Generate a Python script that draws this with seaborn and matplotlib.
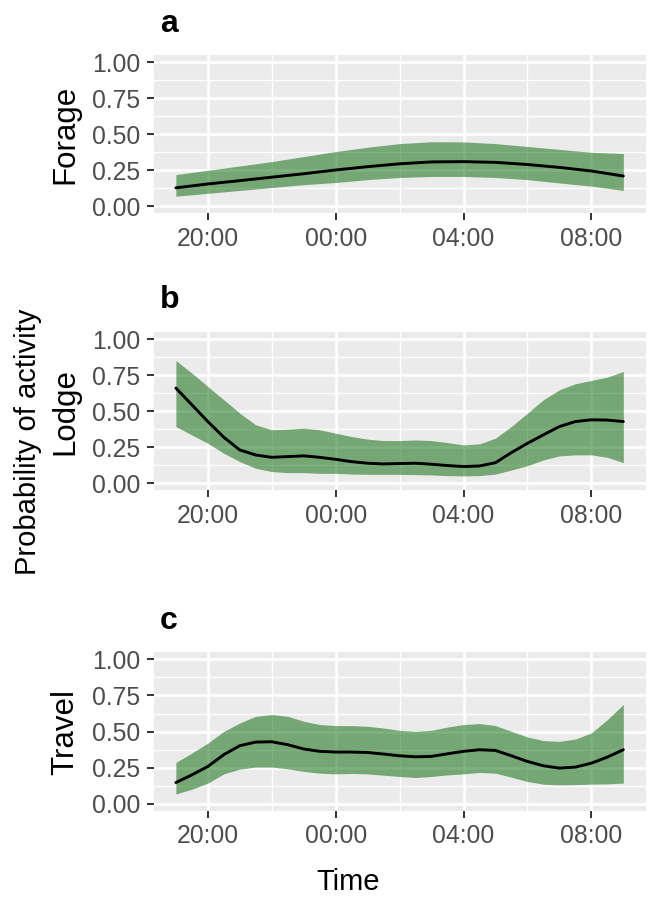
import pandas as pd
import seaborn as sns
import matplotlib.pyplot as plt
import matplotlib.dates as mdates

# Heures d'echantillonnage (19:00 -> 09:00)
hours_a = pd.date_range("2021-01-01 19:00", "2021-01-02 09:00", freq="1h")
hours_bc = pd.date_range("2021-01-01 19:00", "2021-01-02 09:00", freq="30min")

# Forage (toutes les heures)
forage_fit = [0.128, 0.155, 0.178, 0.202, 0.226, 0.252, 0.275, 0.295, 0.308, 0.31,
              0.305, 0.29, 0.27, 0.245, 0.21]
forage_low = [0.07, 0.09, 0.11, 0.13, 0.15, 0.165, 0.185, 0.2, 0.207, 0.207,
              0.2, 0.185, 0.162, 0.14, 0.11]
forage_high = [0.22, 0.25, 0.28, 0.31, 0.345, 0.38, 0.41, 0.435, 0.448, 0.447,
               0.435, 0.415, 0.395, 0.375, 0.366]

# Lodge (toutes les demi-heures)
lodge_fit = [0.66, 0.544, 0.428, 0.319, 0.231, 0.196, 0.18, 0.185, 0.19, 0.18,
             0.166, 0.15, 0.139, 0.134, 0.137, 0.139, 0.132, 0.123, 0.116, 0.12,
             0.143, 0.213, 0.277, 0.336, 0.393, 0.428, 0.44, 0.438, 0.428]
lodge_low = [0.393, 0.335, 0.277, 0.208, 0.15, 0.104, 0.081, 0.074, 0.074, 0.069,
             0.069, 0.064, 0.062, 0.062, 0.062, 0.06, 0.058, 0.053, 0.051, 0.053,
             0.064, 0.092, 0.122, 0.162, 0.19, 0.197, 0.197, 0.18, 0.143]
lodge_high = [0.851, 0.764, 0.671, 0.579, 0.486, 0.405, 0.371, 0.375, 0.382, 0.371,
              0.347, 0.324, 0.306, 0.296, 0.296, 0.3, 0.296, 0.282, 0.266, 0.273,
              0.313, 0.394, 0.486, 0.579, 0.648, 0.69, 0.713, 0.736, 0.775]

# Travel (toutes les demi-heures)
travel_fit = [0.148, 0.201, 0.259, 0.341, 0.403, 0.428, 0.43, 0.41, 0.38, 0.364,
              0.359, 0.359, 0.356, 0.345, 0.333, 0.326, 0.329, 0.347, 0.364, 0.375,
              0.37, 0.333, 0.294, 0.264, 0.248, 0.255, 0.282, 0.324, 0.375]
travel_low = [0.069, 0.102, 0.144, 0.208, 0.241, 0.255, 0.255, 0.243, 0.225, 0.213,
              0.208, 0.211, 0.208, 0.199, 0.19, 0.183, 0.19, 0.201, 0.208, 0.218,
              0.213, 0.185, 0.155, 0.137, 0.132, 0.134, 0.137, 0.139, 0.144]
travel_high = [0.287, 0.352, 0.421, 0.502, 0.56, 0.606, 0.618, 0.606, 0.572, 0.549,
               0.542, 0.542, 0.537, 0.525, 0.509, 0.502, 0.509, 0.532, 0.549, 0.556,
               0.542, 0.502, 0.463, 0.438, 0.433, 0.449, 0.491, 0.583, 0.688]

y_ticks = [0, 0.25, 0.5, 0.75, 1.0]
y_labels = ["0.00", "0.25", "0.50", "0.75", "1.00"]

panels = [
    ("a", "Forage", hours_a, forage_fit, forage_low, forage_high),
    ("b", "Lodge", hours_bc, lodge_fit, lodge_low, lodge_high),
    ("c", "Travel", hours_bc, travel_fit, travel_low, travel_high),
]

sns.set_theme(style="darkgrid", rc={"axes.facecolor": "#EBEBEB", "grid.color": "white",
                                    "text.color": "black"})
plt.rcParams["font.family"] = ["Liberation Sans", "DejaVu Sans"]

W, H = 650, 897
fig = plt.figure(figsize=(W / 100, H / 100), dpi=100)

# positions des panneaux en pixels (haut, bas)
rows = [(55.0, 213.5), (331.8, 490.5), (652.1, 811.2)]
left_px, right_px = 153.5, 645.7

x_min = pd.Timestamp("2021-01-01 18:18")
x_max = pd.Timestamp("2021-01-02 09:42")

for (letter, name, t, fit, low, high), (top, bot) in zip(panels, rows):
    ax = fig.add_axes([left_px / W, 1 - bot / H, (right_px - left_px) / W, (bot - top) / H])
    df = pd.DataFrame({"time": t, "fit": fit})
    ax.fill_between(t, low, high, color="darkgreen", alpha=0.5, linewidth=0, zorder=2)
    sns.lineplot(data=df, x="time", y="fit", ax=ax, color="black", linewidth=2.1, zorder=3)

    ax.set_xlim(x_min, x_max)
    ax.set_ylim(-0.05, 1.05)
    ax.set_yticks(y_ticks)
    ax.set_yticklabels(y_labels)
    ax.set_yticks([0.125, 0.375, 0.625, 0.875], minor=True)
    ax.xaxis.set_major_locator(mdates.HourLocator(byhour=[20, 0, 4, 8]))
    ax.xaxis.set_minor_locator(mdates.HourLocator(byhour=[22, 2, 6]))
    ax.xaxis.set_major_formatter(mdates.DateFormatter("%H:%M"))

    ax.grid(which="major", color="white", linewidth=1.9)
    ax.grid(which="minor", color="white", linewidth=0.95)
    ax.set_axisbelow(True)
    ax.tick_params(which="major", length=5, width=1.4, color="#333333",
                   labelsize=17.8, labelcolor="#4D4D4D", pad=4.5, bottom=True, left=True)
    ax.tick_params(which="minor", length=0)
    ax.set_xlabel("")
    ax.set_ylabel("")
    for s in ax.spines.values():
        s.set_visible(False)

    fig.text(160 / W, 1 - (top - 23.3) / H, letter, fontsize=23, fontweight="bold",
             ha="left", va="baseline")
    fig.text(65 / W, 1 - ((top + bot) / 2) / H, name, fontsize=22.5, rotation=90,
             ha="center", va="center")

fig.text(28.5 / W, 1 - 442 / H, "Probability of activity", fontsize=21, rotation=90,
         ha="center", va="center")
fig.text(348 / W, 1 - 890 / H, "Time", fontsize=21, ha="center", va="baseline")

fig.savefig("out.png", dpi=100)
